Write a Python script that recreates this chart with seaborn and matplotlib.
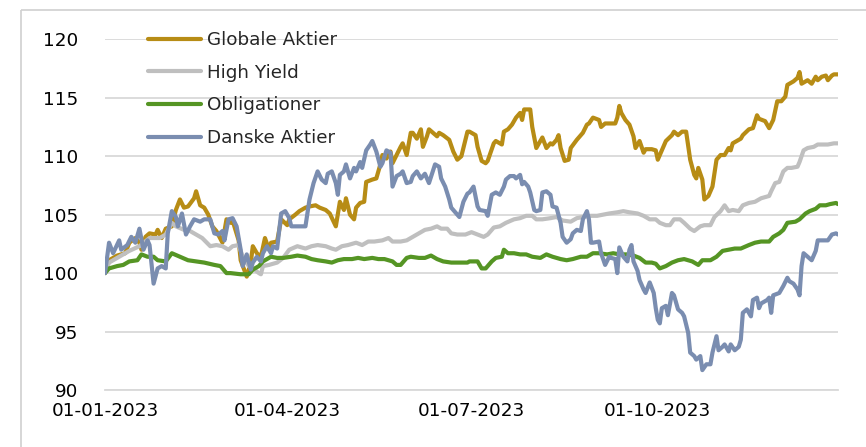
import pandas as pd
import matplotlib
matplotlib.use("Agg")
import matplotlib.pyplot as plt
import matplotlib.dates as mdates
from matplotlib.lines import Line2D
import seaborn as sns

# index values (start = 100); day = days after 1 Jan 2023
start = pd.Timestamp("2023-01-01")
end = pd.Timestamp("2023-12-29")

series_names = ["Globale Aktier", "High Yield", "Obligationer", "Danske Aktier"]
colors = ["#B78C15", "#BFBFBF", "#559524", "#7A8DB0"]
tick_dates = ["2023-01-01", "2023-04-01", "2023-07-01", "2023-10-01"]
yticks = [90, 95, 100, 105, 110, 115, 120]

globale = [
    (0, 100.0), (2, 101.1), (6, 101.5), (10, 101.7), (12, 102.6), (15, 103.0), (17, 102.6), (18, 102.0),
    (20, 103.1), (22, 103.4), (25, 103.3), (26, 103.7), (28, 103.0), (30, 103.8), (33, 104.0), (35, 105.4),
    (37, 106.3), (39, 105.6), (41, 105.7), (44, 106.4), (45, 107.0), (47, 105.8), (49, 105.6), (51, 105.0),
    (53, 104.0), (55, 103.6), (58, 102.6), (60, 104.6), (62, 104.3), (63, 104.5), (66, 102.8), (67, 101.1),
    (70, 99.7), (72, 100.9), (73, 102.3), (75, 101.7), (77, 101.4), (79, 103.0), (81, 102.0), (82, 102.6),
    (85, 102.7), (87, 104.6), (90, 104.1),
    (91, 104.6), (94, 105.0), (96, 105.3), (99, 105.6), (101, 105.7), (104, 105.8), (106, 105.6), (109, 105.4),
    (111, 105.1), (114, 104.0), (116, 106.1), (118, 105.4), (119, 106.4), (121, 105.0), (123, 104.6),
    (124, 105.6), (126, 106.0), (128, 106.1), (129, 107.8), (132, 108.0), (134, 108.1), (136, 109.3),
    (137, 110.1), (139, 109.8), (141, 110.4), (142, 109.4), (144, 110.1), (146, 110.8), (147, 111.1),
    (149, 110.1), (151, 112.0), (152, 112.0), (154, 111.5), (156, 112.3), (157, 110.8), (159, 111.7),
    (160, 112.3), (162, 112.0), (164, 111.7), (165, 112.0), (167, 111.8), (170, 111.4), (172, 110.4),
    (174, 109.7), (176, 110.0), (179, 112.1),
    (180, 112.1), (183, 111.8), (184, 110.8), (186, 109.6), (188, 109.4), (189, 109.6), (192, 111.1),
    (193, 111.3), (196, 111.0), (197, 112.1), (199, 112.3), (201, 112.7), (203, 113.3), (205, 113.7),
    (206, 113.1), (207, 114.0), (210, 114.0), (211, 112.5), (213, 110.7), (215, 111.3), (216, 111.6),
    (218, 110.7), (220, 111.1), (221, 111.0), (223, 111.4), (224, 111.8), (225, 110.7), (227, 109.6),
    (229, 109.7), (230, 110.7), (233, 111.4), (234, 111.6), (236, 112.0), (238, 112.7), (239, 112.8),
    (241, 113.3), (244, 113.1), (245, 112.5), (247, 112.8), (249, 112.8), (252, 112.8), (253, 113.3),
    (254, 114.3), (255, 113.7), (257, 113.1), (259, 112.7), (261, 111.7), (262, 110.7), (264, 111.3),
    (266, 110.3), (267, 110.6), (270, 110.6),
    (272, 110.5), (273, 109.7), (275, 110.5), (277, 111.3), (280, 111.8), (281, 112.1), (283, 111.8),
    (285, 112.1), (287, 112.1), (289, 109.7), (291, 108.4), (292, 108.1), (293, 109.0), (295, 108.0),
    (296, 106.3), (298, 106.6), (300, 107.4), (302, 109.7), (304, 110.1), (306, 110.1), (308, 110.7),
    (309, 110.5), (310, 111.1), (312, 111.3), (314, 111.5), (315, 111.8), (318, 112.3), (320, 112.4),
    (322, 113.5), (323, 113.2), (326, 113.0), (328, 112.4), (330, 113.1), (332, 114.7), (334, 114.7),
    (336, 115.1), (337, 116.1), (340, 116.4), (342, 116.7), (343, 117.2), (344, 116.2), (346, 116.4),
    (347, 116.5), (349, 116.2), (351, 116.8), (352, 116.5), (354, 116.8), (356, 116.9), (357, 116.5),
    (359, 116.9), (360, 117.0), (362, 117.0),
]

high_yield = [
    (0, 100.0), (2, 100.9), (7, 101.4), (12, 101.9), (17, 102.3), (22, 103.0), (27, 103.0), (30, 103.3),
    (33, 104.3), (35, 104.0), (39, 103.7), (42, 103.6), (45, 103.3), (48, 103.0), (52, 102.3), (55, 102.4),
    (58, 102.3), (61, 102.0), (63, 102.3), (66, 102.4), (68, 101.4), (71, 100.6), (73, 100.4), (76, 100.0),
    (77, 99.9), (78, 100.6), (81, 100.7), (85, 100.9), (88, 101.3),
    (91, 102.0), (95, 102.3), (99, 102.1), (102, 102.3), (105, 102.4), (109, 102.3), (112, 102.1),
    (114, 102.0), (117, 102.3), (120, 102.4), (124, 102.6), (127, 102.4), (130, 102.7), (133, 102.7),
    (137, 102.8), (140, 103.0), (142, 102.7), (146, 102.7), (149, 102.8), (152, 103.1), (155, 103.4),
    (158, 103.7), (161, 103.8), (164, 104.0), (166, 103.8), (169, 103.8), (171, 103.4), (174, 103.3),
    (178, 103.3),
    (181, 103.5), (184, 103.3), (187, 103.1), (189, 103.3), (192, 103.9), (195, 104.0), (198, 104.3),
    (202, 104.6), (205, 104.7), (208, 104.9), (211, 104.9), (213, 104.6), (216, 104.6), (220, 104.7),
    (223, 104.8), (226, 104.5), (230, 104.4), (233, 104.7), (236, 104.8), (240, 104.9), (243, 104.9),
    (246, 105.0), (249, 105.1), (253, 105.2), (256, 105.3), (259, 105.2), (263, 105.1), (266, 104.9),
    (269, 104.6), (272, 104.6),
    (274, 104.3), (277, 104.1), (279, 104.1), (281, 104.6), (284, 104.6), (286, 104.3), (289, 103.8),
    (291, 103.6), (294, 104.0), (296, 104.1), (299, 104.1), (301, 104.8), (304, 105.3), (306, 105.8),
    (308, 105.3), (310, 105.4), (313, 105.3), (315, 105.8), (318, 106.0), (321, 106.1), (324, 106.4),
    (328, 106.6), (329, 107.0), (331, 107.7), (333, 107.8), (335, 108.7), (337, 109.0), (339, 109.0),
    (342, 109.1), (343, 109.5), (345, 110.5), (347, 110.7), (350, 110.8), (352, 111.0), (355, 111.0),
    (357, 111.0), (360, 111.1), (362, 111.1),
]

obligationer = [
    (0, 100.0), (2, 100.4), (6, 100.6), (9, 100.7), (12, 101.0), (16, 101.1), (18, 101.6), (21, 101.4),
    (24, 101.4), (26, 101.1), (30, 101.0), (33, 101.7), (37, 101.4), (41, 101.1), (45, 101.0), (49, 100.9),
    (54, 100.7), (57, 100.6), (60, 100.0), (62, 100.0), (67, 99.9), (71, 99.9), (73, 100.3), (76, 100.6),
    (78, 101.0), (82, 101.4), (85, 101.3), (88, 101.3),
    (92, 101.4), (95, 101.5), (99, 101.4), (102, 101.2), (105, 101.1), (109, 101.0), (112, 100.9),
    (115, 101.1), (118, 101.2), (122, 101.2), (125, 101.3), (128, 101.2), (132, 101.3), (135, 101.2),
    (138, 101.2), (142, 101.0), (144, 100.7), (146, 100.7), (149, 101.3), (151, 101.4), (155, 101.3),
    (158, 101.3), (161, 101.5), (164, 101.2), (167, 101.0), (171, 100.9), (174, 100.9), (179, 100.9),
    (180, 101.0), (184, 101.0), (186, 100.4), (188, 100.4), (191, 101.0), (193, 101.3), (196, 101.4),
    (197, 102.0), (199, 101.7), (202, 101.7), (205, 101.6), (208, 101.6), (211, 101.4), (215, 101.3),
    (218, 101.6), (221, 101.4), (225, 101.2), (228, 101.1), (231, 101.2), (235, 101.4), (238, 101.4),
    (241, 101.7), (244, 101.7), (248, 101.6), (251, 101.7), (254, 101.6), (258, 101.6), (261, 101.5),
    (264, 101.3), (267, 100.9), (270, 100.9),
    (272, 100.8), (274, 100.4), (277, 100.6), (280, 100.9), (283, 101.1), (286, 101.2), (290, 101.0),
    (293, 100.7), (295, 101.1), (299, 101.1), (302, 101.4), (305, 101.9), (308, 102.0), (311, 102.1),
    (314, 102.1), (318, 102.4), (321, 102.6), (324, 102.7), (328, 102.7), (330, 103.1), (333, 103.4),
    (335, 103.7), (337, 104.3), (341, 104.4), (343, 104.6), (346, 105.1), (348, 105.3), (351, 105.5),
    (353, 105.8), (356, 105.8), (358, 105.9), (361, 106.0), (362, 105.9),
]

danske = [
    (0, 100.0), (2, 102.6), (4, 101.7), (7, 102.8), (8, 102.0), (11, 102.4), (13, 103.1), (15, 102.6),
    (17, 103.8), (19, 102.0), (21, 102.8), (22, 102.4), (24, 99.1), (26, 100.4), (28, 100.6), (30, 100.4),
    (31, 103.4), (33, 105.3), (35, 104.8), (36, 104.0), (38, 105.1), (40, 103.3), (42, 104.0), (44, 104.6),
    (47, 104.4), (49, 104.6), (52, 104.6), (54, 103.4), (56, 103.3), (58, 103.6), (59, 102.8), (61, 104.6),
    (63, 104.7), (65, 104.0), (67, 102.0), (68, 100.6), (70, 101.6), (72, 100.3), (73, 100.9), (75, 101.4),
    (77, 101.0), (78, 101.7), (80, 102.3), (82, 101.7), (83, 102.3), (85, 102.1), (87, 105.1), (89, 105.3),
    (91, 104.7), (92, 104.0), (96, 104.0), (99, 104.0), (101, 106.3), (103, 107.7), (105, 108.7),
    (107, 108.0), (109, 107.7), (110, 108.5), (112, 108.7), (114, 107.7), (115, 106.7), (116, 108.4),
    (118, 108.7), (119, 109.3), (121, 108.1), (123, 109.0), (124, 108.7), (126, 109.5), (127, 109.0),
    (129, 110.5), (131, 111.0), (132, 111.3), (134, 110.4), (136, 109.1), (137, 109.4), (139, 110.5),
    (141, 110.3), (142, 107.4), (144, 108.3), (146, 108.5), (147, 108.7), (149, 107.7), (151, 107.8),
    (152, 108.3), (154, 108.7), (156, 108.1), (158, 108.5), (160, 107.7), (163, 109.3), (165, 109.1),
    (166, 108.1), (168, 107.4), (170, 106.3), (171, 105.6), (174, 105.0), (175, 104.8), (177, 106.1),
    (179, 106.8),
    (180, 106.9), (182, 107.4), (184, 105.7), (185, 105.4), (188, 105.3), (189, 104.9), (191, 106.7),
    (193, 106.9), (195, 106.7), (197, 107.4), (198, 108.0), (200, 108.3), (202, 108.3), (203, 108.1),
    (205, 108.4), (206, 107.6), (207, 107.8), (209, 107.4), (210, 106.9), (212, 105.4), (213, 105.3),
    (215, 105.4), (216, 106.9), (218, 107.0), (220, 106.7), (221, 105.7), (223, 105.6), (225, 104.3),
    (226, 103.1), (228, 102.6), (230, 102.9), (231, 103.4), (233, 103.7), (235, 103.6), (236, 104.6),
    (238, 105.3), (239, 104.6), (240, 102.6), (241, 102.6), (244, 102.7), (245, 101.7), (247, 100.7),
    (249, 101.4), (250, 101.3), (252, 101.2), (253, 100.0), (254, 102.2), (256, 101.4), (258, 101.0),
    (259, 102.0), (260, 102.4), (261, 101.0), (263, 100.2), (264, 99.4), (266, 98.6), (267, 98.3),
    (269, 99.2), (271, 98.3), (272, 97.0), (273, 96.0), (274, 95.7),
    (275, 97.0), (277, 97.2), (278, 96.4), (280, 98.3), (281, 98.1), (283, 96.9), (285, 96.6), (286, 96.3),
    (288, 94.9), (289, 93.2), (291, 92.9), (292, 92.6), (294, 92.9), (295, 91.7), (297, 92.2), (299, 92.2),
    (300, 93.2), (302, 94.6), (303, 93.4), (305, 93.7), (306, 93.9), (308, 93.3), (309, 93.9), (311, 93.4),
    (313, 93.7), (314, 94.3), (315, 96.6), (317, 96.9), (319, 96.3), (320, 97.7), (322, 97.9), (323, 97.0),
    (324, 97.4), (327, 97.7), (328, 97.9), (329, 96.6), (330, 98.1), (333, 98.3), (335, 98.9), (337, 99.6),
    (338, 99.3), (340, 99.1), (342, 98.6), (343, 98.1), (344, 100.6), (345, 101.7), (347, 101.4),
    (349, 101.1), (351, 101.9), (352, 102.8), (354, 102.8), (356, 102.8), (357, 102.8), (359, 103.3),
    (361, 103.4), (362, 103.3),
]


def to_frame(pairs, name):
    df = pd.DataFrame(pairs, columns=["day", "value"])
    df["date"] = start + pd.to_timedelta(df["day"], unit="D")
    df["serie"] = name
    return df


data = pd.concat([to_frame(p, n) for p, n in
                  zip([globale, high_yield, obligationer, danske], series_names)])

sns.set_style("white")
plt.rcParams["font.family"] = ["DejaVu Sans"]

W, H = 866, 447
fig = plt.figure(figsize=(8.66, 4.47), dpi=100)
ax = fig.add_axes([105 / W, 57 / H, 733 / W, 350.7 / H])

for name, col in zip(series_names, colors):
    sns.lineplot(data=data[data["serie"] == name], x="date", y="value", color=col, lw=3,
                 label=name, ax=ax, errorbar=None, solid_capstyle="round",
                 solid_joinstyle="round")

ax.set_xlim(start, end)
ax.set_ylim(90, 120)
ax.set_yticks(yticks)
ax.grid(axis="y", color="#D9D9D9", lw=1.3)
ax.set_axisbelow(True)
for s in ["left", "top", "right"]:
    ax.spines[s].set_visible(False)
ax.spines["bottom"].set_color("#D9D9D9")
ax.spines["bottom"].set_linewidth(1.3)

ax.xaxis.set_major_locator(matplotlib.ticker.FixedLocator(mdates.date2num(pd.to_datetime(tick_dates))))
ax.xaxis.set_major_formatter(mdates.DateFormatter("%d-%m-%Y"))
ax.xaxis.set_minor_locator(matplotlib.ticker.FixedLocator([mdates.date2num(end)]))
ax.tick_params(axis="x", which="both", direction="in", length=5, width=1.3, color="#D9D9D9",
               labelsize=13.2, pad=9, labelcolor="black")
ax.tick_params(axis="y", length=0, pad=19, labelsize=13.2, labelcolor="black")
ax.set_xlabel("")
ax.set_ylabel("")

ax.legend(loc="upper left", bbox_to_anchor=(148 / W, (H - 31) / H),
          bbox_transform=fig.transFigure, frameon=False, fontsize=13.2,
          handlelength=2.9, handletextpad=0.3, labelspacing=0.8,
          borderpad=0, borderaxespad=0)

# light outer frame of the chart area (left and top edges), drawn last in figure coordinates
fx, fy = 20.5, 9.5
for xs, ys in [([fx / W, fx / W], [0, 1 - fy / H]), ([fx / W, 1], [1 - fy / H, 1 - fy / H])]:
    edge = Line2D(xs, ys, transform=fig.transFigure, color="#D0D0D0", lw=1.2,
                  solid_capstyle="butt", clip_on=False, zorder=5)
    fig.add_artist(edge)
    edge.set_clip_on(False)

fig.savefig("out.png", dpi=100)
